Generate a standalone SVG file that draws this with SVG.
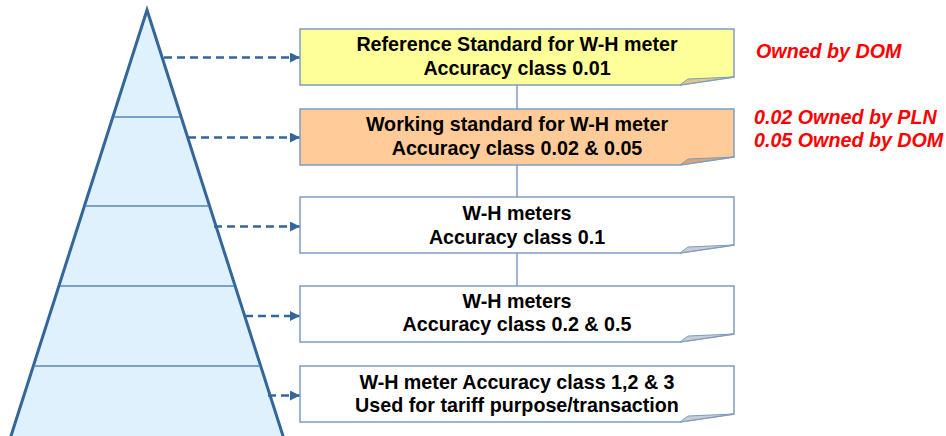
<svg xmlns="http://www.w3.org/2000/svg" width="946" height="436" viewBox="0 0 946 436">
<defs>
<style>
.box{stroke:#7f9cc0;stroke-width:1.5}
.fold{stroke:#7f9cc0;stroke-width:1}
.t{font-family:"Liberation Sans",Arial,sans-serif;font-weight:bold;font-size:19.7px;fill:#000;text-anchor:middle}
.r{font-family:"Liberation Sans",Arial,sans-serif;font-weight:bold;font-style:italic;font-size:19.7px;fill:#ff0000}
.dash{stroke:#336699;stroke-width:2.5;stroke-dasharray:8 5;fill:none}
.vl{stroke:#7f9cc0;stroke-width:1.5}
</style>
<marker id="ah" viewBox="0 0 10 10" refX="10" refY="5" markerWidth="4" markerHeight="4" orient="auto" markerUnits="strokeWidth">
<path d="M0,0 L10,5 L0,10 Z" fill="#336699"/>
</marker>
</defs>
<rect width="946" height="436" fill="#ffffff"/>
<g id="pyramid">
<path d="M147,10 L9.7,440 L284.3,440 Z" fill="#dff1fd" stroke="#336699" stroke-width="3" stroke-linejoin="miter"/>
<g stroke="#5b86b5" stroke-width="1.5">
<line x1="114" y1="117" x2="180" y2="117"/>
<line x1="85" y1="206" x2="209" y2="206"/>
<line x1="60" y1="286" x2="234" y2="286"/>
<line x1="34" y1="366" x2="260" y2="366"/>
</g>
</g>
<g id="connectors">
<line class="vl" x1="517" y1="85" x2="517" y2="109"/>
<line class="vl" x1="517" y1="165" x2="517" y2="197"/>
<line class="vl" x1="517" y1="253" x2="517" y2="286"/>
<line class="dash" x1="164" y1="57.5" x2="300" y2="57.5" marker-end="url(#ah)"/>
<line class="dash" x1="188" y1="137.5" x2="300" y2="137.5" marker-end="url(#ah)"/>
<line class="dash" x1="214" y1="226.5" x2="300" y2="226.5" marker-end="url(#ah)"/>
<line class="dash" x1="245" y1="316" x2="300" y2="316" marker-end="url(#ah)"/>
<line class="dash" x1="268" y1="395.5" x2="300" y2="395.5" marker-end="url(#ah)"/>
</g>
<g id="box1">
<path class="box" d="M300,29 H734 V77 L680,85 H300 Z" fill="#ffff99"/>
<path class="fold" d="M680,85 L688,79 L734,77 Z" fill="#d9c98a"/>
<text class="t" x="517" y="51">Reference Standard for W-H meter</text>
<text class="t" x="517" y="74.5">Accuracy class 0.01</text>
</g>
<g id="box2">
<path class="box" d="M300,109 H734 V157 L680,165 H300 Z" fill="#ffcc99"/>
<path class="fold" d="M680,165 L688,159 L734,157 Z" fill="#d3a876"/>
<text class="t" x="517" y="131">Working standard for W-H meter</text>
<text class="t" x="517" y="154.5">Accuracy class 0.02 &amp; 0.05</text>
</g>
<g id="box3">
<path class="box" d="M300,197 H734 V245 L680,253 H300 Z" fill="#ffffff"/>
<path class="fold" d="M680,253 L688,247 L734,245 Z" fill="#c9ccd0"/>
<text class="t" x="517" y="219.5">W-H meters</text>
<text class="t" x="517" y="243.5">Accuracy class 0.1</text>
</g>
<g id="box4">
<path class="box" d="M300,286 H734 V334 L680,342 H300 Z" fill="#ffffff"/>
<path class="fold" d="M680,342 L688,336 L734,334 Z" fill="#c9ccd0"/>
<text class="t" x="517" y="307.5">W-H meters</text>
<text class="t" x="517" y="331">Accuracy class 0.2 &amp; 0.5</text>
</g>
<g id="box5">
<path class="box" d="M300,366 H734 V414 L680,422 H300 Z" fill="#ffffff"/>
<path class="fold" d="M680,422 L688,416 L734,414 Z" fill="#c9ccd0"/>
<text class="t" x="517" y="388.5">W-H meter Accuracy class 1,2 &amp; 3</text>
<text class="t" x="517" y="411.5">Used for tariff purpose/transaction</text>
</g>
<g id="owners">
<text class="r" x="756" y="58">Owned by DOM</text>
<text class="r" x="754" y="124">0.02 Owned by PLN</text>
<text class="r" x="754" y="147">0.05 Owned by DOM</text>
</g>
</svg>
